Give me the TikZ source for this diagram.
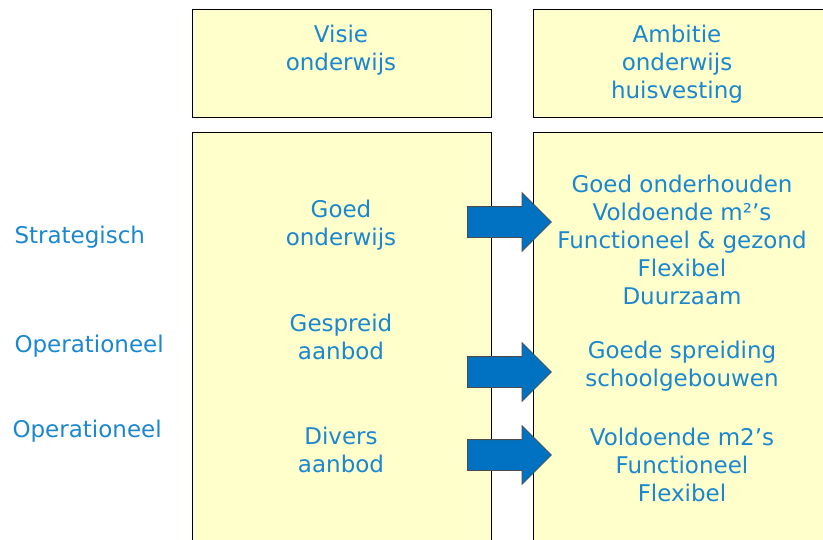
\documentclass[tikz,border=0pt]{standalone}
\usepackage{fontspec}
\setmainfont{DejaVu Sans}
\usetikzlibrary{positioning, shapes.arrows}
\definecolor{boxfill}{HTML}{FFFFCC}
\definecolor{textblue}{HTML}{1B87CF}
\definecolor{arrowblue}{HTML}{0072C1}
\tikzset{
    label text/.style={font=\fontsize{23}{28}\selectfont, text=textblue, align=center}, % all blue texts
    panel/.style={draw=black, fill=boxfill, line width=1pt, inner sep=0pt}, % the yellow boxes
    block arrow/.style={single arrow, draw=black!70, fill=arrowblue, line width=0.8pt,
        inner sep=0pt, inner ysep=15pt, single arrow head extend=14pt,
        single arrow head indent=0pt, minimum height=84pt, anchor=tail}, % the fat blue arrows
}
\begin{document}
\begin{tikzpicture}[x=1pt, y=-1pt]
    \useasboundingbox (0,0) rectangle (823,539);
    \clip (0,0) rectangle (823,539);

    % boxes
    \node[panel, minimum width=299pt, minimum height=108pt] (visie) at (341.5,63) {};
    \node[panel, minimum width=299pt, minimum height=108pt] (ambitie) at (682.5,63) {};
    \node[panel, minimum width=299pt, minimum height=430pt] (links) at (341.5,347) {};
    \node[panel, minimum width=299pt, minimum height=430pt] (rechts) at (682.5,347) {};

    % headers
    \node[label text] (tvisie) at (341,50) {Visie\\onderwijs};
    \node[label text] (tambitie) at (677,64) {Ambitie\\onderwijs\\huisvesting};

    % row labels
    \node[label text, anchor=west] (strat) at (11,237) {Strategisch};
    \node[label text, anchor=west] (oper1) at (11,346) {Operationeel};
    \node[label text, anchor=west] (oper2) at (9,431) {Operationeel};

    % left column
    \node[label text] (goed) at (341,225) {Goed\\onderwijs};
    \node[label text] (gespreid) at (341,337) {Gespreid\\aanbod};
    \node[label text] (divers) at (341,450) {Divers\\aanbod};

    % right column
    \node[label text] (eisen1) at (682,239.5) {Goed onderhouden\\Voldoende m²’s\\Functioneel \& gezond\\Flexibel\\Duurzaam};
    \node[label text] (eisen2) at (682,366) {Goede spreiding\\schoolgebouwen};
    \node[label text] (eisen3) at (682,465) {Voldoende m2’s\\Functioneel\\Flexibel};

    % arrows
    \node[block arrow] (pijl1) at (467,222) {};
    \node[block arrow] (pijl2) at (467,372) {};
    \node[block arrow] (pijl3) at (467,455) {};
\end{tikzpicture}
\end{document}
